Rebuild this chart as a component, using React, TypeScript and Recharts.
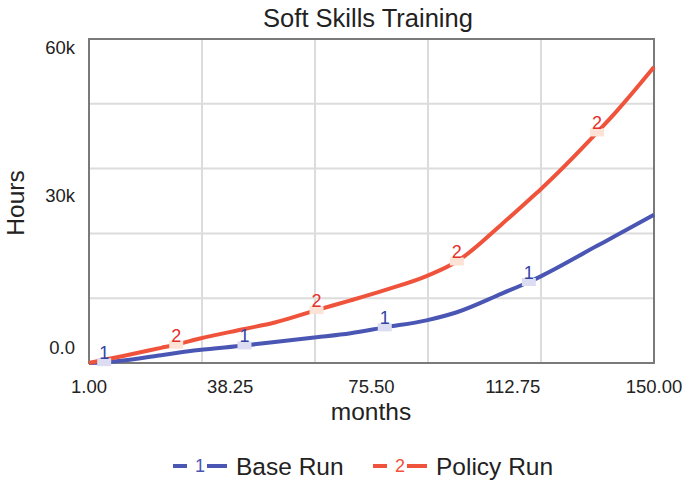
import * as React from "react";
import {CartesianGrid, Line, LineChart, ReferenceArea, XAxis, YAxis} from "recharts";

// months, values in hours
const months = [1, 5, 10, 20, 24, 30, 42, 50, 61, 70, 79, 90, 98, 110, 117, 120, 135, 140, 150];
const baseRun = [0, 150, 450, 1450, 1850, 2400, 3250, 3900, 4750, 5500, 6600, 7900, 9400, 12900, 15000, 16000, 21700, 23600, 27450];
const policyRun = [0, 600, 1300, 2800, 3400, 4500, 6300, 7500, 9800, 11600, 13500, 16100, 18800, 25800, 30200, 32100, 42700, 46500, 54800];

const baseLabelMonths = [5, 42, 79, 117];
const policyLabelMonths = [24, 61, 98, 135];

const xTicks = [1, 38.25, 75.5, 112.75, 150];
const xGridTicks = [1, 30.8, 60.6, 90.4, 120.2, 150];
const yTicks = [0, 30000, 60000];
const yGridTicks = [0, 12000, 24000, 36000, 48000, 60000];
const yLabels: Record<number, string> = {0: "0.0", 30000: "30k", 60000: "60k"};

const BLUE = "#4a56b4";
const RED = "#f0533b";
const FONT = "'Liberation Sans', Arial, sans-serif";

const data = months.map((m, i) => ({month: m, base: baseRun[i], policy: policyRun[i]}));

const NoTick = () => <g/>;

const XTick = (props: any) => (
    <text x={props.x} y={props.y + 21} textAnchor="middle" dominantBaseline="central"
          fontSize={18.5} fontFamily={FONT} fill="#222">{props.payload.value.toFixed(2)}</text>
);

const YTick = (props: any) => {
    const v = props.payload.value;
    const label = yLabels[v];
    if (label === undefined) return <g/>;
    const dy = v === 0 ? -16 : v === 30000 ? -6 : 8;
    return (
        <text x={props.x - 12} y={props.y + dy} textAnchor="end" dominantBaseline="central"
              fontSize={18.5} fontFamily={FONT} fill="#222">{label}</text>
    );
};

const makeDot = (labelMonths: number[], num: string, color: string, tint: string) => (props: any) => {
    const {cx, cy, payload, index} = props;
    if (!labelMonths.includes(payload.month)) return <g key={`d${num}-${index}`}/>;
    return (
        <g key={`d${num}-${index}`}>
            <rect x={cx - 7} y={cy - 4} width={14} height={8} fill={tint}/>
            <text x={cx} y={cy - 3} textAnchor="middle" fontSize={18} fontFamily={FONT} fill={color}>{num}</text>
        </g>
    );
};

const LegendItem = ({x, num, color, label}: {x: number, num: string, color: string, label: string}) => (
    <g>
        <line x1={x} x2={x + 14} y1={466} y2={466} stroke={color} strokeWidth={4}/>
        <text x={x + 27} y={466} textAnchor="middle" dominantBaseline="central" fontSize={18}
              fontFamily={FONT} fill={color}>{num}</text>
        <line x1={x + 34} x2={x + 54} y1={466} y2={466} stroke={color} strokeWidth={4}/>
        <text x={x + 63} y={466} dominantBaseline="central" fontSize={24.5} fontFamily={FONT} fill="#222">{label}</text>
    </g>
);

export default function App() {
    return (
        <div style={{position: "absolute", left: 0, top: 0}}>
            <LineChart width={685} height={483} data={data} margin={{top: 39, right: 31, bottom: 0, left: 0}}>
                <CartesianGrid xAxisId="grid" yAxisId="grid" stroke="#dcdcdc" strokeWidth={2}/>
                <XAxis xAxisId="grid" orientation="top" type="number" dataKey="month" domain={[1, 150]}
                       ticks={xGridTicks} interval={0} height={0} tick={<NoTick/>} axisLine={false} tickLine={false}/>
                <YAxis yAxisId="grid" orientation="right" type="number" dataKey="policy" domain={[0, 60000]}
                       allowDataOverflow ticks={yGridTicks} interval={0} width={0} tick={<NoTick/>}
                       axisLine={false} tickLine={false}/>
                <XAxis type="number" dataKey="month" domain={[1, 150]} ticks={xTicks} interval={0}
                       height={120} tickSize={0} axisLine={false} tick={<XTick/>}/>
                <YAxis type="number" domain={[0, 60000]} ticks={yTicks} interval={0} width={89}
                       tickSize={0} axisLine={false} tick={<YTick/>}/>
                <ReferenceArea x1={1} x2={150} y1={0} y2={60000} fill="none" fillOpacity={0}
                               stroke="#7a7a7a" strokeWidth={2} strokeOpacity={1}/>
                <Line type="monotone" dataKey="base" stroke={BLUE} strokeWidth={4} isAnimationActive={false}
                      dot={makeDot(baseLabelMonths, "1", "#3344a6", "#dcdcf2")} activeDot={false}/>
                <Line type="monotone" dataKey="policy" stroke={RED} strokeWidth={4} isAnimationActive={false}
                      dot={makeDot(policyLabelMonths, "2", "#e5302a", "#fde2d6")} activeDot={false}/>
                <text x={368} y={18} textAnchor="middle" dominantBaseline="central" fontSize={25.5}
                      fontFamily={FONT} fill="#222">Soft Skills Training</text>
                <text x={371} y={411} textAnchor="middle" dominantBaseline="central" fontSize={24.5}
                      fontFamily={FONT} fill="#222">months</text>
                <text x={15} y={203} textAnchor="middle" dominantBaseline="central" fontSize={24.5}
                      fontFamily={FONT} fill="#222" transform="rotate(-90, 15, 203)">Hours</text>
                <LegendItem x={173} num="1" color={BLUE} label="Base Run"/>
                <LegendItem x={373} num="2" color={RED} label="Policy Run"/>
            </LineChart>
        </div>
    );
}
